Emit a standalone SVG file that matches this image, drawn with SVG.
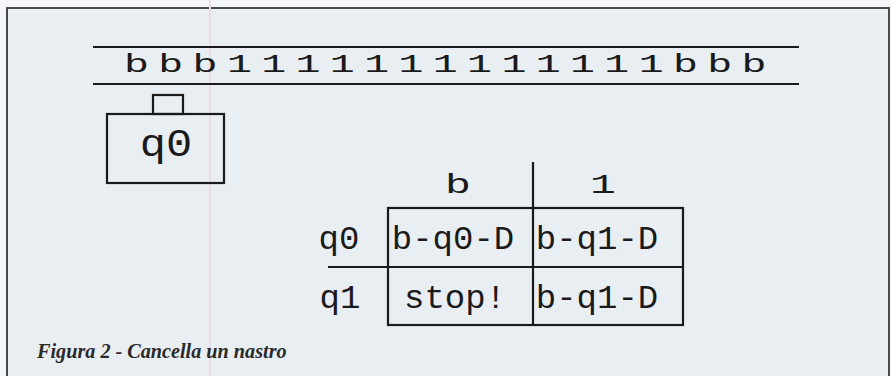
<svg xmlns="http://www.w3.org/2000/svg" width="891" height="376" viewBox="0 0 891 376">
<style>
.ln{stroke:#1a1a1a;stroke-width:2.2;fill:none}
.mono{font-family:"Liberation Mono","DejaVu Sans Mono",monospace;fill:#1a1a1a}
.cap{font-family:"Liberation Serif","Times New Roman",serif;font-style:italic;font-weight:bold;fill:#2a2a2a}
</style>
<rect x="0" y="0" width="891" height="376" fill="#f3f5f8"/>
<rect x="7" y="8" width="882" height="380" fill="#e9eef3" stroke="#4a4a4a" stroke-width="2"/>
<line x1="210" y1="0" x2="210" y2="376" stroke="#eadbe4" stroke-width="2"/>
<g id="tape">
<line class="ln" x1="93" y1="47" x2="799" y2="47"/>
<line class="ln" x1="93" y1="84" x2="799" y2="84"/>
<text class="mono" font-size="26" letter-spacing="5.85" transform="translate(124,72) scale(1.6,1)">bbb1111111111111bbb</text>
</g>
<g id="head">
<rect class="ln" x="153" y="95" width="30" height="19"/>
<rect class="ln" x="107" y="114" width="117" height="69"/>
<text class="mono" font-size="38" text-anchor="middle" transform="translate(166,156) scale(1.15,1)">q0</text>
</g>
<g id="table">
<line class="ln" x1="533" y1="162" x2="533" y2="325"/>
<rect class="ln" x="388" y="208" width="295" height="117"/>
<line class="ln" x1="328" y1="267" x2="683" y2="267"/>
<text class="mono" font-size="27" text-anchor="middle" transform="translate(458,193) scale(1.6,1)">b</text>
<text class="mono" font-size="27" text-anchor="middle" transform="translate(603,193) scale(1.6,1)">1</text>
<text class="mono" font-size="34" text-anchor="middle" x="339" y="249">q0</text>
<text class="mono" font-size="34" text-anchor="middle" x="340" y="308">q1</text>
<text class="mono" font-size="34" text-anchor="middle" x="453" y="249">b-q0-D</text>
<text class="mono" font-size="34" text-anchor="middle" x="597" y="249">b-q1-D</text>
<text class="mono" font-size="34" text-anchor="middle" x="455" y="308">stop!</text>
<text class="mono" font-size="34" text-anchor="middle" x="597" y="308">b-q1-D</text>
</g>
<text class="cap" font-size="20.2" x="37" y="358">Figura 2 - Cancella un nastro</text>
</svg>
